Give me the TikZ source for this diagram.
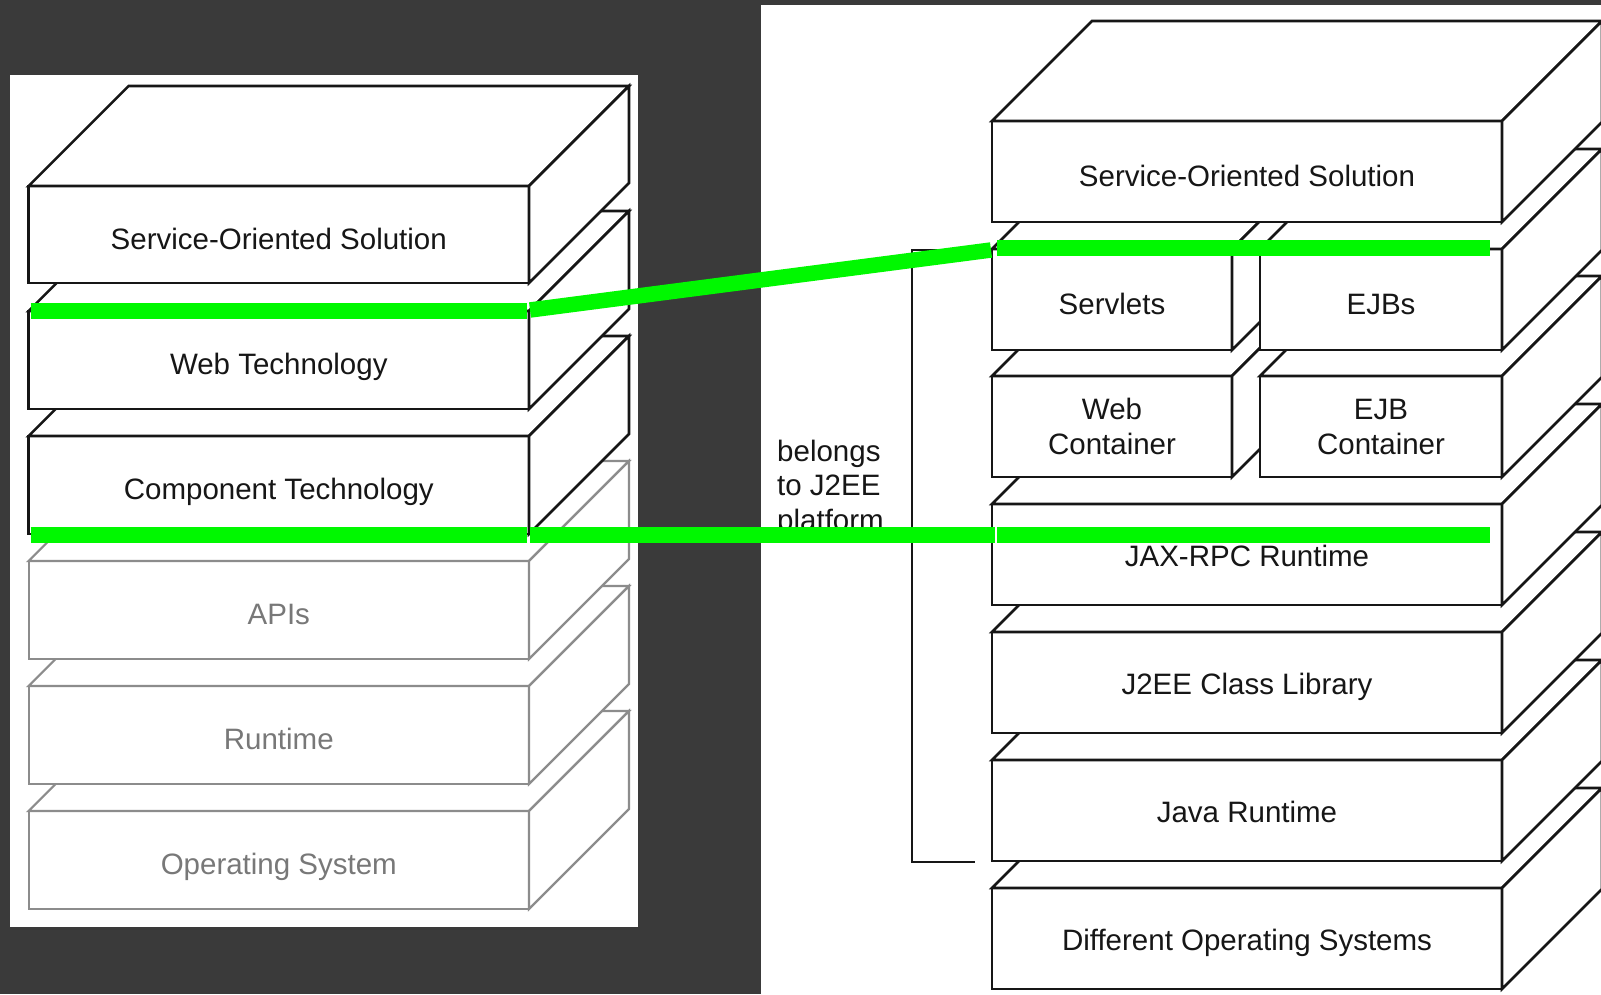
\documentclass[tikz,border=0pt]{standalone}
\usepackage{fontspec}
\setmainfont{Liberation Sans}
\definecolor{bgdark}{RGB}{58,58,58}
\definecolor{hl}{RGB}{0,248,0}
\definecolor{lgray}{RGB}{140,140,140}
\definecolor{tgray}{RGB}{120,120,120}
\definecolor{ink}{RGB}{22,22,22}
\tikzset{
  face/.style={draw=ink, line width=2.6pt, fill=white, rectangle, outer sep=0pt,
    inner sep=0pt, anchor=north west, text=ink, align=center,
    font=\fontsize{29.5}{35}\selectfont},
  sideface/.style={draw=ink, line width=2.6pt, fill=white, line join=miter},
  faded/.style={draw=lgray, text=tgray, line width=2.2pt},
  ltext/.style={text height=29pt, text depth=0pt},
  rtext/.style={text height=24pt, text depth=0pt},
  hlline/.style={draw=hl, line width=15.5pt},
  bracket/.style={draw=ink, line width=2.6pt},
  note/.style={text=ink, align=left, anchor=west, inner sep=0pt,
    font=\fontsize{29.5}{34.5}\selectfont}
}
% #1 name, #2 x, #3 top y, #4 width, #5 height, #6 extra style, #7 text
\newcommand\slab[7]{%
  \node[face,#6,minimum width=#4pt,minimum height=#5pt] (#1) at (#2,#3) {#7};
  \draw[sideface,#6] (#1.north west) -- ++(100,-100) -- ++(#4,0) -- (#1.north east) -- cycle;
  \draw[sideface,#6] (#1.north east) -- ++(100,-100) -- ++(0,#5) -- (#1.south east) -- cycle;
}
\begin{document}
\begin{tikzpicture}[x=1pt,y=-1pt]
\useasboundingbox (0,0) rectangle (1601,994);
\clip (0,0) rectangle (1601,994);
\fill[bgdark] (0,0) rectangle (1601,994);
\fill[white] (10,74.5) rectangle (638,927);
\fill[white] (761,5) rectangle (1601,994);

% ---------- left stack ----------
\slab{los}{28.6}{811}{500.4}{98}{faded,ltext}{Operating System}
\slab{lrt}{28.6}{686}{500.4}{98}{faded,ltext}{Runtime}
\slab{lapi}{28.6}{561}{500.4}{98}{faded,ltext}{APIs}
\slab{lcomp}{28.6}{436}{500.4}{98}{ltext}{Component Technology}
\slab{lweb}{28.6}{311}{500.4}{98}{ltext}{Web Technology}
\slab{lsos}{28.6}{186}{500.4}{97}{ltext}{Service-Oriented Solution}

% ---------- right stack ----------
\slab{rdos}{992}{888}{510}{101}{rtext}{Different Operating Systems}
\slab{rjava}{992}{760}{510}{101}{rtext}{Java Runtime}
\slab{rlib}{992}{632}{510}{101}{rtext}{J2EE Class Library}
\slab{rjax}{992}{504}{510}{101}{rtext}{JAX-RPC Runtime}
\slab{rwebc}{992}{376}{240}{101}{}{Web\\Container}
\slab{rejbc}{1260}{376}{242}{101}{}{EJB\\Container}
\slab{rserv}{992}{249}{240}{101}{ltext}{Servlets}
\slab{rejb}{1260}{249}{242}{101}{ltext}{EJBs}
\slab{rsos}{992}{121}{510}{101}{ltext}{Service-Oriented Solution}

% ---------- bracket and note ----------
\coordinate (bTop) at (985,250);
\coordinate (bTopL) at (912,250);
\coordinate (bBotL) at (912,862);
\coordinate (bBot) at (975,862);
\draw[bracket] (bTop) -- (bTopL) -- (bBotL) -- (bBot);
\node[note] (belongs) at (777,488) {belongs\\to J2EE\\platform};

% ---------- green highlight lines ----------
\coordinate (gA1) at (30.6,311);
\coordinate (gA2) at (527,311);
\coordinate (gA3) at (530,310);
\coordinate (gA4) at (991,250);
\coordinate (gA5) at (997,248);
\coordinate (gA6) at (1490,248);
\draw[hlline] (gA1) -- (gA2);
\draw[hlline] (gA3) -- (gA4);
\draw[hlline] (gA5) -- (gA6);
\coordinate (gB1) at (30.6,535);
\coordinate (gB2) at (527,535);
\coordinate (gB3) at (530,535);
\coordinate (gB4) at (995,535);
\coordinate (gB5) at (997,535);
\coordinate (gB6) at (1490,535);
\draw[hlline] (gB1) -- (gB2);
\draw[hlline] (gB3) -- (gB4);
\draw[hlline] (gB5) -- (gB6);
\end{tikzpicture}
\end{document}
